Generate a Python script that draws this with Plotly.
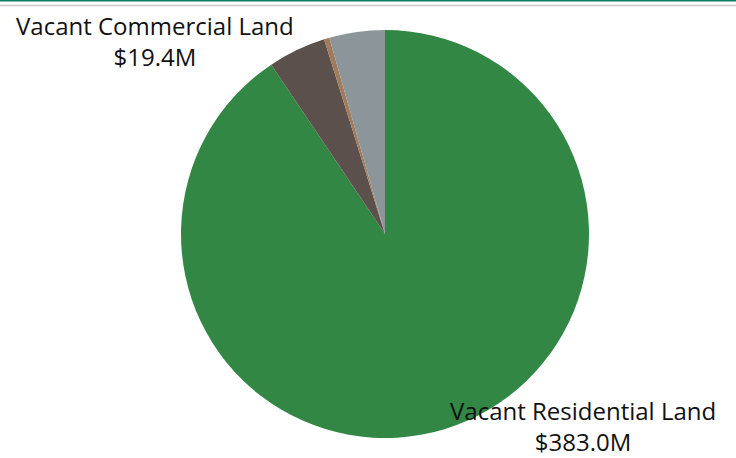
import plotly.graph_objects as go

categories = ["Vacant Residential Land", "Vacant Commercial Land", "Other Vacant Land", "Other Property"]
values = [383.0, 19.4, 1.8, 18.6]
colors = ["#338745", "#5c504d", "#a27a5c", "#8c9599"]
show_label = [True, True, False, False]

W, H = 736, 458
cx, cy, r = 385, 234, 204

fig = go.Figure(go.Pie(
    labels=categories,
    values=values,
    marker=dict(colors=colors, line=dict(width=0)),
    sort=False,
    direction="clockwise",
    rotation=0,
    textinfo="none",
    hoverinfo="label+value",
    showlegend=False,
    domain=dict(x=[(cx - r) / W, (cx + r) / W], y=[1 - (cy + r) / H, 1 - (cy - r) / H]),
))

label_pos = {"Vacant Commercial Land": (155, 41), "Vacant Residential Land": (582.5, 426)}
for cat, val, show in zip(categories, values, show_label):
    if not show:
        continue
    x, y = label_pos[cat]
    fig.add_annotation(
        x=x / W, y=1 - y / H, xref="paper", yref="paper",
        text=f"{cat}<br>${val:.1f}M", showarrow=False,
        font=dict(family="Open Sans", size=24, color="#111111"),
        align="center", xanchor="center", yanchor="middle",
    )

fig.add_shape(type="line", xref="paper", yref="paper", x0=0, x1=1, y0=1 - 0.5 / H, y1=1 - 0.5 / H,
              line=dict(color="#0a7d5c", width=2))
fig.add_shape(type="line", xref="paper", yref="paper", x0=0, x1=1, y0=1 - 5.5 / H, y1=1 - 5.5 / H,
              line=dict(color="#c8c8c8", width=1.5))

fig.update_layout(
    width=W, height=H,
    margin=dict(l=0, r=0, t=0, b=0),
    paper_bgcolor="white", plot_bgcolor="white",
)
fig.write_html("out.html")
